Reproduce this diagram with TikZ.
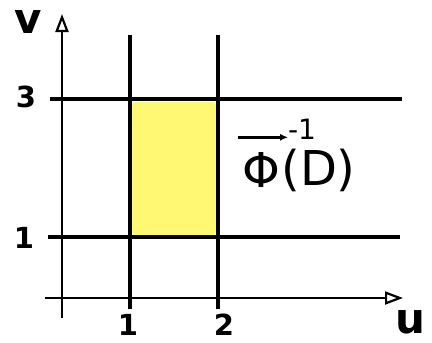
\documentclass[tikz,border=0pt]{standalone}
\usepackage{fontspec}
\setmainfont{DejaVu Sans}
\usetikzlibrary{arrows.meta}

\begin{document}
\begin{tikzpicture}[x=1pt, y=-1pt,
    axis/.style={line width=2.2pt, -{Triangle[open, length=18pt, width=13pt]}},
    gridline/.style={line width=3.8pt},
    tick/.style={font=\fontsize{29}{31}\selectfont\bfseries, inner sep=0pt},
    axlabel/.style={font=\fontsize{42}{44}\selectfont\bfseries, inner sep=0pt},
    formula/.style={font=\fontsize{48}{50}\selectfont, inner sep=0pt}
]
\useasboundingbox (0,0) rectangle (432,343);

% region
\fill[yellow!55, rounded corners=3pt] (132,102) rectangle (216,235);

% lines u=1, u=2, v=1, v=3
\draw[gridline] (130,35) -- (130,309);
\draw[gridline] (218,35) -- (218,309);
\draw[gridline] (50,99) -- (402,99);
\draw[gridline] (48,237) -- (400,237);

% axes
\coordinate (o1) at (62,318);
\coordinate (vtip) at (62,14);
\coordinate (o2) at (45,298);
\coordinate (utip) at (403,298);
\draw[axis] (o1) -- (vtip);
\draw[axis] (o2) -- (utip);

% labels
\node[tick] (v3) at (26,97) {3};
\node[tick] (v1) at (24,238) {1};
\node[tick] (u1) at (128,325) {1};
\node[tick] (u2) at (224,325) {2};
\node[axlabel] (vlab) at (28,22) {v};
\node[axlabel] (ulab) at (410,322) {u};

% preimage
\node[formula] (phi) at (261,170) {Φ};
\node[formula, anchor=west] (arg) at ([xshift=1pt]phi.east) {(D)};
\node[font=\fontsize{28}{30}\selectfont, inner sep=0pt] (inv) at (302,129) {-1};
\draw[line width=2.6pt, -{Latex[length=8pt, width=7pt]}]
    ([xshift=-4pt, yshift=15pt]phi.north west) -- ([xshift=8pt, yshift=15pt]phi.north east);
\end{tikzpicture}
\end{document}
